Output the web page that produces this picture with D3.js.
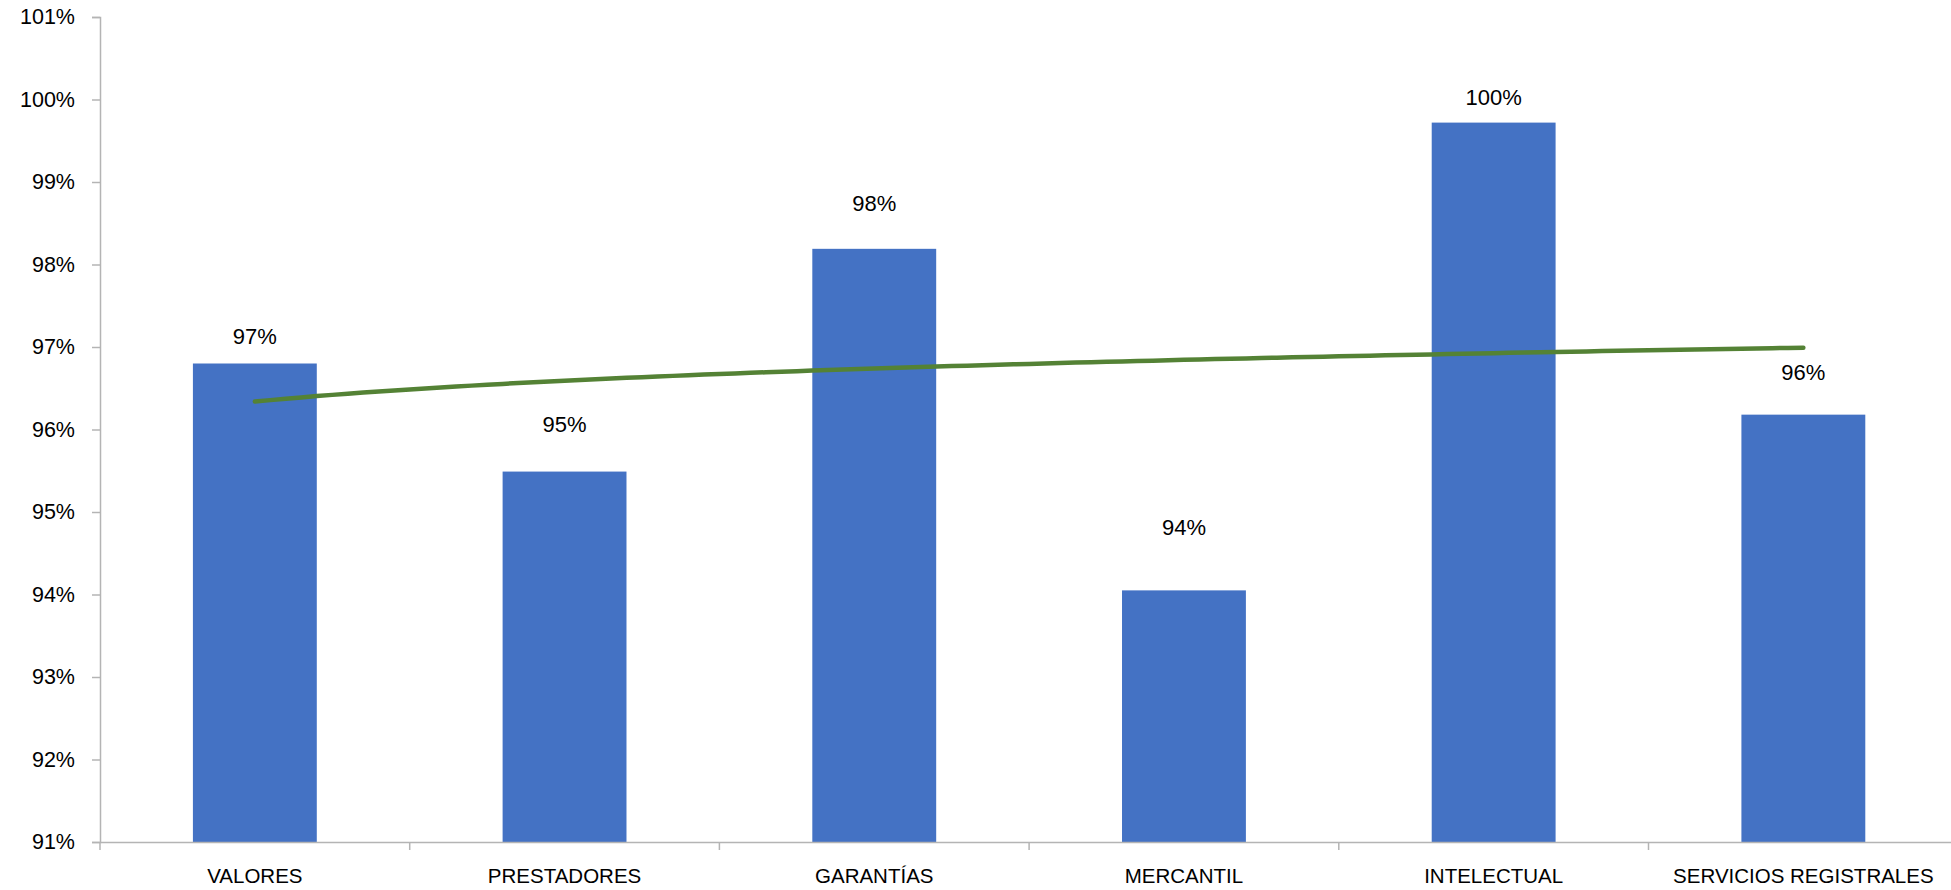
<!DOCTYPE html>
<html>
<head>
<meta charset="utf-8">
<script src="https://cdn.jsdelivr.net/npm/d3@7"></script>
<style>
  html, body { margin: 0; padding: 0; background: #ffffff; }
  svg { display: block; }
  text { font-family: "Liberation Sans", Arial, sans-serif; fill: #000; }
</style>
</head>
<body>
<svg id="chart" width="1951" height="890"></svg>
<script>
// ---- data ----
const categories = ["VALORES", "PRESTADORES", "GARANTÍAS", "MERCANTIL", "INTELECTUAL", "SERVICIOS REGISTRALES"];
const values = [96.80, 95.49, 98.19, 94.05, 99.72, 96.18];      // percent
const valueLabels = ["97%", "95%", "98%", "94%", "100%", "96%"];
const yTicks = [91, 92, 93, 94, 95, 96, 97, 98, 99, 100, 101];
// layout: vertical gap (px) between bar top and its label centre (labels hand-placed in original)
const labelGap = [27, 47, 46, 63, 26, 43];

// ---- layout ----
const W = 1951, H = 890;
const plotLeft = 100, plotTop = 17, plotBottom = 842;
const band = 309.7;
const plotRight = plotLeft + band * categories.length;

const svg = d3.select("#chart");

const x = d3.scaleBand()
  .domain(categories)
  .range([plotLeft, plotRight])
  .paddingInner(0.6)
  .paddingOuter(0.3);

const y = d3.scaleLinear().domain([91, 101]).range([plotBottom, plotTop]);

// bars
svg.append("g").selectAll("rect")
  .data(categories)
  .join("rect")
  .attr("x", (d) => x(d))
  .attr("width", x.bandwidth())
  .attr("y", (d, i) => y(values[i]))
  .attr("height", (d, i) => y(91) - y(values[i]))
  .attr("fill", "#4472C4");

// logarithmic trendline (least-squares fit of values on ln(index))
const lnx = values.map((v, i) => Math.log(i + 1));
const mx = d3.mean(lnx), my = d3.mean(values);
const b = d3.sum(lnx, (l, i) => (l - mx) * (values[i] - my)) / d3.sum(lnx, (l) => (l - mx) * (l - mx));
const a = my - b * mx;
const xIdx = d3.scaleLinear().domain([1, categories.length])
  .range([x(categories[0]) + x.bandwidth() / 2, x(categories[categories.length - 1]) + x.bandwidth() / 2]);
const trendPts = d3.range(1, categories.length + 0.0001, 0.05).map((t) => [t, a + b * Math.log(t)]);
svg.append("path")
  .datum(trendPts)
  .attr("d", d3.line().x((d) => xIdx(d[0])).y((d) => y(d[1])))
  .attr("fill", "none")
  .attr("stroke", "#548235")
  .attr("stroke-width", 4.5)
  .attr("stroke-linecap", "round");

// data labels
svg.append("g").selectAll("text")
  .data(categories)
  .join("text")
  .attr("x", (d) => x(d) + x.bandwidth() / 2)
  .attr("y", (d, i) => y(values[i]) - labelGap[i])
  .attr("dy", "0.36em")
  .attr("text-anchor", "middle")
  .attr("font-size", 22)
  .text((d, i) => valueLabels[i]);

// y axis
const yAxis = d3.axisLeft(y)
  .tickValues(yTicks)
  .tickFormat((d) => d + "%")
  .tickSize(8)
  .tickPadding(17);
const gy = svg.append("g").attr("transform", `translate(${plotLeft},0)`).call(yAxis);
gy.select(".domain").attr("stroke", "#B4B4B4").attr("stroke-width", 1.5);
gy.selectAll(".tick line").attr("stroke", "#B4B4B4").attr("stroke-width", 1.5);
gy.selectAll(".tick text").attr("font-size", 21.5).attr("font-family", "Liberation Sans, Arial, sans-serif").attr("fill", "#000");

// x axis
const xAxis = d3.axisBottom(x).tickSize(0).tickPadding(26);
const gx = svg.append("g").attr("transform", `translate(0,${plotBottom})`).call(xAxis);
gx.select(".domain").attr("stroke", "#B4B4B4").attr("stroke-width", 1.5);
gx.selectAll(".tick text").attr("font-size", 20.5).attr("font-family", "Liberation Sans, Arial, sans-serif").attr("fill", "#000");

// category separator ticks
const sep = d3.scaleLinear().domain([0, categories.length]).range([plotLeft, plotRight]);
svg.append("g").selectAll("line")
  .data(d3.range(0, categories.length + 1))
  .join("line")
  .attr("x1", (d) => sep(d)).attr("x2", (d) => sep(d))
  .attr("y1", plotBottom).attr("y2", plotBottom + 8)
  .attr("stroke", "#B4B4B4").attr("stroke-width", 1.5);
</script>
</body>
</html>
